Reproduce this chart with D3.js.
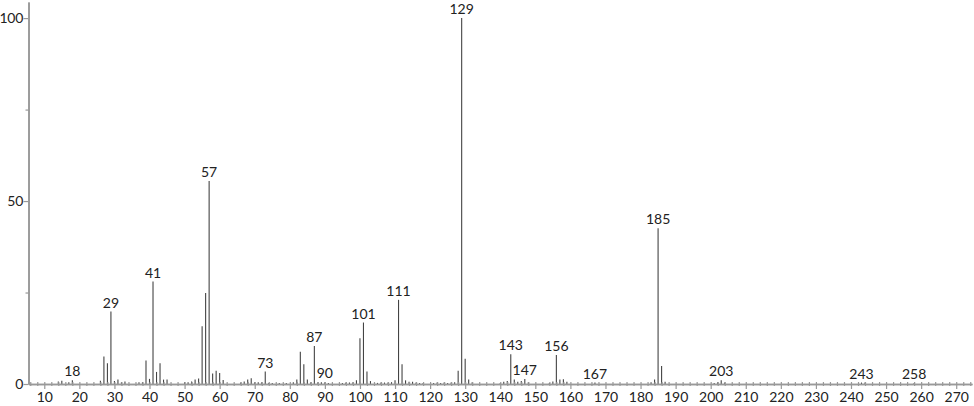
<!DOCTYPE html>
<html><head><meta charset="utf-8">
<script src="https://cdn.jsdelivr.net/npm/d3@7"></script>
<style>
html,body{margin:0;padding:0;background:#fff;}
svg{display:block;}
text{font-family:Lato,"DejaVu Sans",sans-serif;font-size:14px;fill:#222;}
</style></head>
<body>
<svg id="chart" width="974" height="406"></svg>
<script>
// m/z values and relative intensities (%)
const mz = [14,15,17,18,26,27,28,29,30,31,32,33,37,38,39,40,41,42,43,44,45,
  50,51,52,53,54,55,56,57,58,59,60,61,66,67,68,69,70,71,72,73,74,75,77,79,
  81,82,83,84,85,86,87,88,89,90,91,95,96,97,98,99,100,101,102,103,
  105,106,107,108,109,110,111,112,113,114,115,116,117,118,121,122,123,124,125,126,127,
  128,129,130,131,132,140,141,142,143,144,145,146,147,148,154,155,156,157,158,159,
  167,183,184,185,186,187,201,202,203,204,243,244,258];
const intensity = [0.7,0.9,0.5,1.0,0.9,7.5,5.7,19.8,0.8,1.2,0.5,0.7,0.5,0.5,6.4,1.4,28.0,3.3,5.7,1.2,1.2,
  0.5,0.5,0.7,1.2,1.5,15.8,24.9,55.5,2.9,3.6,3.0,1.1,0.4,0.7,1.2,1.6,0.5,0.5,0.5,3.4,0.3,0.3,0.3,0.3,
  0.5,1.2,8.8,5.4,1.2,0.5,10.4,0.5,0.5,0.5,0.3,0.3,0.4,0.4,0.5,1.0,12.5,16.8,3.4,0.8,
  0.3,0.4,0.4,0.4,0.5,1.0,23.0,5.4,1.0,0.6,0.6,0.4,0.3,0.3,0.3,0.4,0.3,0.4,0.3,0.4,0.5,
  3.6,100,6.9,1.2,0.5,0.3,0.6,0.8,8.1,1.2,0.6,0.8,1.4,0.5,0.3,0.7,7.9,1.2,1.3,0.6,
  0.4,0.5,1.2,42.6,4.9,0.6,0.3,0.5,1.0,0.4,0.4,0.4,0.3];
const labeled = [18,29,41,57,73,87,90,101,111,129,143,147,156,167,185,203,243,258];
const xMajorTicks = d3.range(10, 271, 10);
const xMinorTicks = d3.range(6, 275, 2).filter(v => v % 10 !== 0);
const yMajorTicks = [0, 50, 100];
const yMinorTicks = [25, 75];

const peaks = mz.map((m, i) => ({mz: m, v: intensity[i]}));

const svg = d3.select("#chart");
const x = d3.scaleLinear().domain([5.5, 274.5]).range([28.5, 972]);
const y = d3.scaleLinear().domain([0, 104.4]).range([384, 2]);

const axisColor = "#999";

// peaks
svg.append("g").selectAll("line").data(peaks).join("line")
  .attr("x1", d => x(d.mz)).attr("x2", d => x(d.mz))
  .attr("y1", y(0)).attr("y2", d => y(d.v))
  .attr("stroke", "#444").attr("stroke-width", 1.1);

// peak labels
svg.append("g").selectAll("text").data(peaks.filter(d => labeled.includes(d.mz))).join("text")
  .attr("x", d => x(d.mz)).attr("y", d => y(d.v) - 4)
  .attr("text-anchor", "middle")
  .text(d => d.mz);

// x axis minor
const gxMinor = svg.append("g").attr("transform", `translate(0,${y(0)})`)
  .call(d3.axisBottom(x).tickValues(xMinorTicks).tickSize(2).tickSizeOuter(0).tickFormat(""));
gxMinor.selectAll(".tick line").attr("y1", -2).attr("y2", 2);
// x axis major
const gx = svg.append("g").attr("transform", `translate(0,${y(0)})`)
  .call(d3.axisBottom(x).tickValues(xMajorTicks).tickSize(5).tickSizeOuter(0).tickPadding(3));
gx.selectAll(".tick line").attr("y1", -2);
[gxMinor, gx].forEach(g => {
  g.attr("font-family", null).attr("font-size", null);
  g.selectAll("path.domain").attr("stroke", axisColor).attr("stroke-width", 1.6);
  g.selectAll(".tick line").attr("stroke", axisColor).attr("stroke-width", 1.2);
});
gx.selectAll(".tick text").attr("fill", "#222");

// y axis minor
const gyMinor = svg.append("g").attr("transform", `translate(${x(5.5)},0)`)
  .call(d3.axisLeft(y).tickValues(yMinorTicks).tickSize(3).tickSizeOuter(0).tickFormat(""));
// y axis major
const gy = svg.append("g").attr("transform", `translate(${x(5.5)},0)`)
  .call(d3.axisLeft(y).tickValues(yMajorTicks).tickSize(5).tickSizeOuter(0).tickPadding(0.5));
[gyMinor, gy].forEach(g => {
  g.attr("font-family", null).attr("font-size", null);
  g.selectAll("path.domain").attr("stroke", axisColor).attr("stroke-width", 1.6);
  g.selectAll(".tick line").attr("stroke", axisColor).attr("stroke-width", 1.2);
});
gy.selectAll(".tick text").attr("fill", "#222").attr("letter-spacing", "-0.3px");
</script>
</body></html>
